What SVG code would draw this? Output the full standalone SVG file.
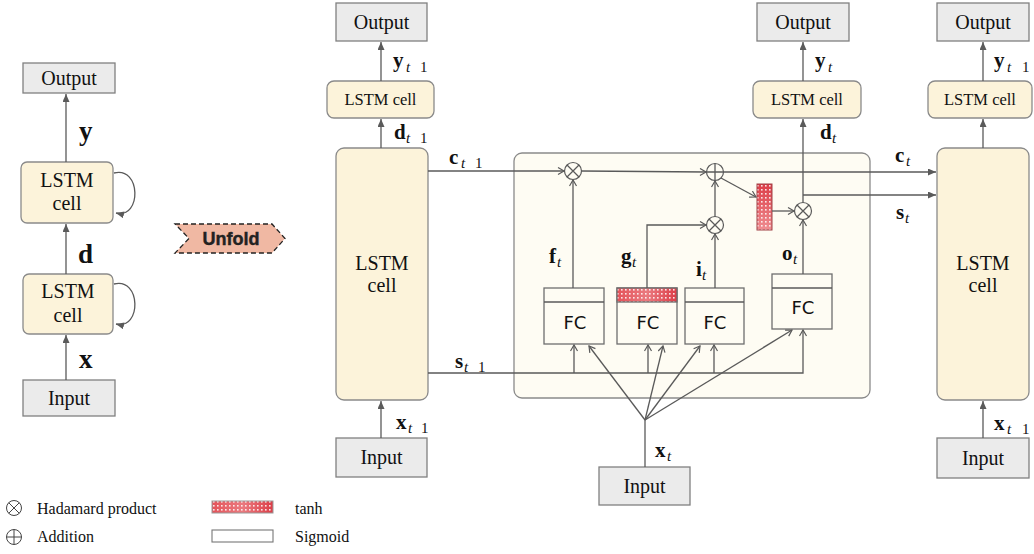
<svg xmlns="http://www.w3.org/2000/svg" width="1034" height="554" viewBox="0 0 1034 554">
<style>
.io{fill:#ebebeb;stroke:#808080;stroke-width:1.3}
.cell{fill:#fcf3da;stroke:#8a8a8a;stroke-width:1.3}
.inner{fill:#fefcf3;stroke:#8a8a8a;stroke-width:1.3}
.fc{fill:#fefcf3;stroke:#6e6e6e;stroke-width:1.3}
.ln{fill:none;stroke:#5a5a5a;stroke-width:1.3}
.op{fill:#fefcf3;stroke:#5a5a5a;stroke-width:1.2}
.lbl{font-family:"Liberation Serif","Times New Roman",serif;font-weight:bold;font-size:21px;fill:#111}
.big{font-size:27px}
.sub{font-style:italic;font-weight:normal;font-size:15px}
.one{font-weight:normal;font-size:15px}
.fct{font-family:"DejaVu Sans",sans-serif;font-size:18px;fill:#111}
.leg{font-family:"Liberation Serif","Times New Roman",serif;font-size:16px;fill:#111}
text.nm{font-family:"Liberation Serif","Times New Roman",serif !important;font-size:20px;font-weight:normal;fill:#111}
text.sm{font-family:"Liberation Serif","Times New Roman",serif !important;font-size:16.5px;font-weight:normal;fill:#111}
</style>
<defs>
<marker id="arr" markerUnits="userSpaceOnUse" markerWidth="9" markerHeight="8" refX="8" refY="3.5" orient="auto">
<path d="M0,0 L8,3.5 L0,7 z" fill="#5a5a5a"/>
</marker>
<marker id="opn" markerUnits="userSpaceOnUse" markerWidth="10" markerHeight="10" refX="7" refY="4" orient="auto">
<path d="M1,0.5 L7,4 L1,7.5" fill="none" stroke="#5a5a5a" stroke-width="1.2"/>
</marker>
<linearGradient id="rg" x1="0" y1="0" x2="0" y2="1">
<stop offset="0" stop-color="#dc3d47"/>
<stop offset="1" stop-color="#ef8e92"/>
</linearGradient>
<linearGradient id="rgh" x1="0" y1="0" x2="1" y2="0">
<stop offset="0" stop-color="#e4535a"/>
<stop offset="0.5" stop-color="#ea7a7f"/>
<stop offset="1" stop-color="#dc3d47"/>
</linearGradient>
<pattern id="dots" width="4" height="4" patternUnits="userSpaceOnUse">
<rect x="1" y="1" width="1.6" height="1.6" fill="#ffffff" fill-opacity="0.85"/>
</pattern>
</defs>

<!-- Left folded diagram -->
<g id="left-output"><rect class="io" x="23" y="63" width="92" height="30"/><text class="nm" style="font-family:'Liberation Serif',serif" x="41.2" y="85">Output</text></g>
<g id="left-cell-upper"><rect class="cell" x="21" y="162" width="92" height="61" rx="6"/><text class="nm" style="font-family:'Liberation Serif',serif" x="40.3" y="187">LSTM</text><text class="nm" style="font-family:'Liberation Serif',serif" x="52.6" y="210">cell</text></g>
<g id="left-cell-lower"><rect class="cell" x="23" y="274" width="90" height="60" rx="6"/><text class="nm" style="font-family:'Liberation Serif',serif" x="41.3" y="298">LSTM</text><text class="nm" style="font-family:'Liberation Serif',serif" x="53.6" y="322">cell</text></g>
<g id="left-input"><rect class="io" x="23" y="380" width="92" height="36"/><text class="nm" style="font-family:'Liberation Serif',serif" x="47.9" y="405">Input</text></g>

<g id="unfold"><polygon points="175,224 272,224 285,238.5 272,253 175,253 189,238.5" fill="#f0b8a3" stroke="#222" stroke-width="1.3" stroke-dasharray="5,3"/><text x="202.5" y="245" font-family="Liberation Sans, Arial, sans-serif" font-weight="bold" font-size="18" fill="#222" stroke="#222" stroke-width="0.4">Unfold</text></g>

<!-- t-1 column -->
<g id="out-tm1"><rect class="io" x="336" y="3" width="91" height="38"/><text class="nm" style="font-family:'Liberation Serif',serif" x="353.7" y="29">Output</text></g>
<g id="cell-small-tm1"><rect class="cell" x="327" y="81" width="107" height="37" rx="7"/><text class="sm" style="font-family:'Liberation Serif',serif" x="344.5" y="105">LSTM cell</text></g>
<g id="cell-big-tm1"><rect class="cell" x="336" y="148" width="92" height="252" rx="8"/><text class="nm" style="font-family:'Liberation Serif',serif" x="355.3" y="270">LSTM</text><text class="nm" style="font-family:'Liberation Serif',serif" x="367.6" y="292">cell</text></g>
<g id="in-tm1"><rect class="io" x="336" y="438" width="91" height="39"/><text class="nm" style="font-family:'Liberation Serif',serif" x="360.4" y="464">Input</text></g>

<!-- t column -->
<g id="out-t"><rect class="io" x="757" y="3" width="92" height="38"/><text class="nm" style="font-family:'Liberation Serif',serif" x="775.2" y="29">Output</text></g>
<g id="cell-small-t"><rect class="cell" x="753" y="81" width="108" height="37" rx="7"/><text class="sm" style="font-family:'Liberation Serif',serif" x="771" y="105">LSTM cell</text></g>
<g id="inner-cell"><rect class="inner" x="514" y="153" width="356" height="245" rx="8"/></g>
<g id="in-t"><rect class="io" x="599" y="467" width="91" height="38"/><text class="nm" style="font-family:'Liberation Serif',serif" x="623.4" y="493">Input</text></g>

<g id="fc-f"><rect class="fc" x="544" y="288" width="60" height="56"/><line class="ln" x1="544" y1="302" x2="604" y2="302"/><text class="fct" x="563.5" y="329">FC</text></g>
<g id="fc-g"><rect class="fc" x="617" y="288" width="60" height="56"/><rect x="617" y="288" width="60" height="14" fill="url(#rgh)"/><rect x="617" y="288" width="60" height="14" fill="url(#dots)" stroke="#6e6e6e" stroke-width="1.3"/><text class="fct" x="636.5" y="329">FC</text></g>
<g id="fc-i"><rect class="fc" x="685" y="288" width="59" height="56"/><line class="ln" x1="685" y1="302" x2="744" y2="302"/><text class="fct" x="703.5" y="329">FC</text></g>
<g id="fc-o"><rect class="fc" x="772" y="274" width="60" height="55"/><line class="ln" x1="772" y1="288" x2="832" y2="288"/><text class="fct" x="791.5" y="314">FC</text></g>

<g id="tanh-c"><rect x="757" y="184" width="15" height="46" fill="url(#rg)"/><rect x="757" y="184" width="15" height="46" fill="url(#dots)" stroke="#a04046" stroke-width="1"/></g>

<g id="mul-f"><circle class="op" cx="573" cy="171" r="8.5"/><path class="ln" d="M567,165 L579,177 M579,165 L567,177" stroke-width="1"/></g>
<g id="add-c"><circle class="op" cx="715" cy="172" r="8.5"/><path class="ln" d="M706.5,172 L723.5,172 M715,163.5 L715,180.5" stroke-width="1"/></g>
<g id="mul-i"><circle class="op" cx="715" cy="225" r="8.5"/><path class="ln" d="M709,219 L721,231 M721,219 L709,231" stroke-width="1"/></g>
<g id="mul-o"><circle class="op" cx="803" cy="211" r="8.5"/><path class="ln" d="M797,205 L809,217 M809,205 L797,217" stroke-width="1"/></g>

<!-- t+1 column -->
<g id="out-tp1"><rect class="io" x="937" y="3" width="92" height="38"/><text class="nm" style="font-family:'Liberation Serif',serif" x="955.2" y="29">Output</text></g>
<g id="cell-small-tp1"><rect class="cell" x="928" y="81" width="104" height="37" rx="7"/><text class="sm" style="font-family:'Liberation Serif',serif" x="944" y="105">LSTM cell</text></g>
<g id="cell-big-tp1"><rect class="cell" x="937" y="148" width="92" height="252" rx="8"/><text class="nm" style="font-family:'Liberation Serif',serif" x="956.3" y="270">LSTM</text><text class="nm" style="font-family:'Liberation Serif',serif" x="968.6" y="292">cell</text></g>
<g id="in-tp1"><rect class="io" x="937" y="438" width="92" height="40"/><text class="nm" style="font-family:'Liberation Serif',serif" x="961.9" y="465">Input</text></g>

<!-- connectors -->
<g id="connectors">
<line class="ln" x1="66" y1="162" x2="66" y2="94" marker-end="url(#arr)"/>
<line class="ln" x1="66" y1="274" x2="66" y2="224" marker-end="url(#arr)"/>
<line class="ln" x1="66" y1="380" x2="66" y2="335" marker-end="url(#arr)"/>
<path class="ln" d="M114,173 C141,166 142,219 116,213" marker-end="url(#arr)"/>
<path class="ln" d="M114,284 C141,277 142,330 116,324" marker-end="url(#arr)"/>

<line class="ln" x1="381" y1="81" x2="381" y2="42" marker-end="url(#arr)"/>
<line class="ln" x1="381" y1="148" x2="381" y2="119" marker-end="url(#arr)"/>
<line class="ln" x1="381" y1="438" x2="381" y2="401" marker-end="url(#arr)"/>
<line class="ln" x1="803" y1="81" x2="803" y2="42" marker-end="url(#arr)"/>
<line class="ln" x1="983" y1="81" x2="983" y2="42" marker-end="url(#arr)"/>
<line class="ln" x1="983" y1="148" x2="983" y2="119" marker-end="url(#arr)"/>
<line class="ln" x1="983" y1="438" x2="983" y2="401" marker-end="url(#arr)"/>

<line class="ln" x1="428" y1="171" x2="564" y2="171" marker-end="url(#opn)"/>
<line class="ln" x1="581.5" y1="171" x2="706" y2="172" marker-end="url(#opn)"/>
<line class="ln" x1="723.5" y1="172" x2="936" y2="172" marker-end="url(#arr)"/>
<line class="ln" x1="573" y1="288" x2="573" y2="180" marker-end="url(#opn)"/>
<polyline class="ln" points="647,288 647,225 706,225" marker-end="url(#opn)"/>
<line class="ln" x1="715" y1="288" x2="715" y2="234" marker-end="url(#opn)"/>
<line class="ln" x1="715" y1="216.5" x2="715" y2="181" marker-end="url(#opn)"/>
<line class="ln" x1="721" y1="178" x2="756" y2="197" marker-end="url(#opn)"/>
<line class="ln" x1="772" y1="211" x2="794" y2="211" marker-end="url(#opn)"/>
<line class="ln" x1="803" y1="274" x2="803" y2="220" marker-end="url(#opn)"/>
<line class="ln" x1="803" y1="202.5" x2="803" y2="119" marker-end="url(#arr)"/>
<line class="ln" x1="803" y1="195" x2="936" y2="195" marker-end="url(#arr)"/>

<polyline class="ln" points="428,373 803,373 803,330" marker-end="url(#opn)"/>
<line class="ln" x1="574" y1="373" x2="574" y2="345" marker-end="url(#opn)"/>
<line class="ln" x1="648" y1="373" x2="648" y2="345" marker-end="url(#opn)"/>
<line class="ln" x1="714" y1="373" x2="714" y2="345" marker-end="url(#opn)"/>

<line class="ln" x1="645" y1="467" x2="645" y2="420"/>
<line class="ln" x1="645" y1="420" x2="589" y2="346" marker-end="url(#opn)"/>
<line class="ln" x1="645" y1="420" x2="663" y2="346" marker-end="url(#opn)"/>
<line class="ln" x1="645" y1="420" x2="700" y2="346" marker-end="url(#opn)"/>
<line class="ln" x1="645" y1="420" x2="792" y2="330" marker-end="url(#opn)"/>
</g>

<!-- labels -->
<g id="labels">
<text class="lbl big" x="79" y="140">y</text>
<text class="lbl big" x="78" y="263">d</text>
<text class="lbl big" x="79" y="368">x</text>

<text class="lbl" x="393" y="67">y<tspan class="sub" x="406" y="72">t</tspan><tspan class="one" x="420" y="72">1</tspan></text>
<text class="lbl" x="394" y="139">d<tspan class="sub" x="406" y="143">t</tspan><tspan class="one" x="420" y="143">1</tspan></text>
<text class="lbl" x="449" y="164">c<tspan class="sub" x="461" y="168">t</tspan><tspan class="one" x="475" y="168">1</tspan></text>
<text class="lbl" x="455" y="368">s<tspan class="sub" x="464" y="372">t</tspan><tspan class="one" x="478" y="372">1</tspan></text>
<text class="lbl" x="396" y="429">x<tspan class="sub" x="408" y="433">t</tspan><tspan class="one" x="421" y="433">1</tspan></text>
<text class="lbl" x="655" y="457">x<tspan class="sub" x="667" y="461">t</tspan></text>

<text class="lbl" x="549" y="263">f<tspan class="sub" x="557" y="267">t</tspan></text>
<text class="lbl" x="621" y="263">g<tspan class="sub" x="632" y="267">t</tspan></text>
<text class="lbl" x="696" y="276">i<tspan class="sub" x="702" y="280">t</tspan></text>
<text class="lbl" x="782" y="260">o<tspan class="sub" x="793" y="264">t</tspan></text>

<text class="lbl" x="815" y="67">y<tspan class="sub" x="828" y="72">t</tspan></text>
<text class="lbl" x="820" y="139">d<tspan class="sub" x="832" y="143">t</tspan></text>
<text class="lbl" x="895" y="162">c<tspan class="sub" x="906" y="166">t</tspan></text>
<text class="lbl" x="896" y="219">s<tspan class="sub" x="905" y="223">t</tspan></text>
<text class="lbl" x="994" y="67">y<tspan class="sub" x="1007" y="72">t</tspan><tspan class="one" x="1022" y="72">1</tspan></text>
<text class="lbl" x="994" y="430">x<tspan class="sub" x="1007" y="434">t</tspan><tspan class="one" x="1022" y="434">1</tspan></text>
</g>

<!-- legend -->
<g id="legend">
<circle cx="14" cy="508" r="7.5" fill="none" stroke="#444" stroke-width="1"/>
<path d="M8.7,502.7 L19.3,513.3 M19.3,502.7 L8.7,513.3" stroke="#444" stroke-width="1"/>
<text class="leg" x="37" y="514">Hadamard product</text>
<circle cx="14" cy="537" r="7.5" fill="none" stroke="#444" stroke-width="1"/>
<path d="M6.5,537 L21.5,537 M14,529.5 L14,544.5" stroke="#444" stroke-width="1"/>
<text class="leg" x="37" y="542">Addition</text>
<rect x="212" y="501" width="61" height="12" fill="url(#rgh)"/>
<rect x="212" y="501" width="61" height="12" fill="url(#dots)" stroke="#999" stroke-width="1"/>
<text class="leg" x="295" y="514">tanh</text>
<rect x="212" y="530" width="61" height="12" fill="#fff" stroke="#777" stroke-width="1.1"/>
<text class="leg" x="295" y="542">Sigmoid</text>
</g>
</svg>
